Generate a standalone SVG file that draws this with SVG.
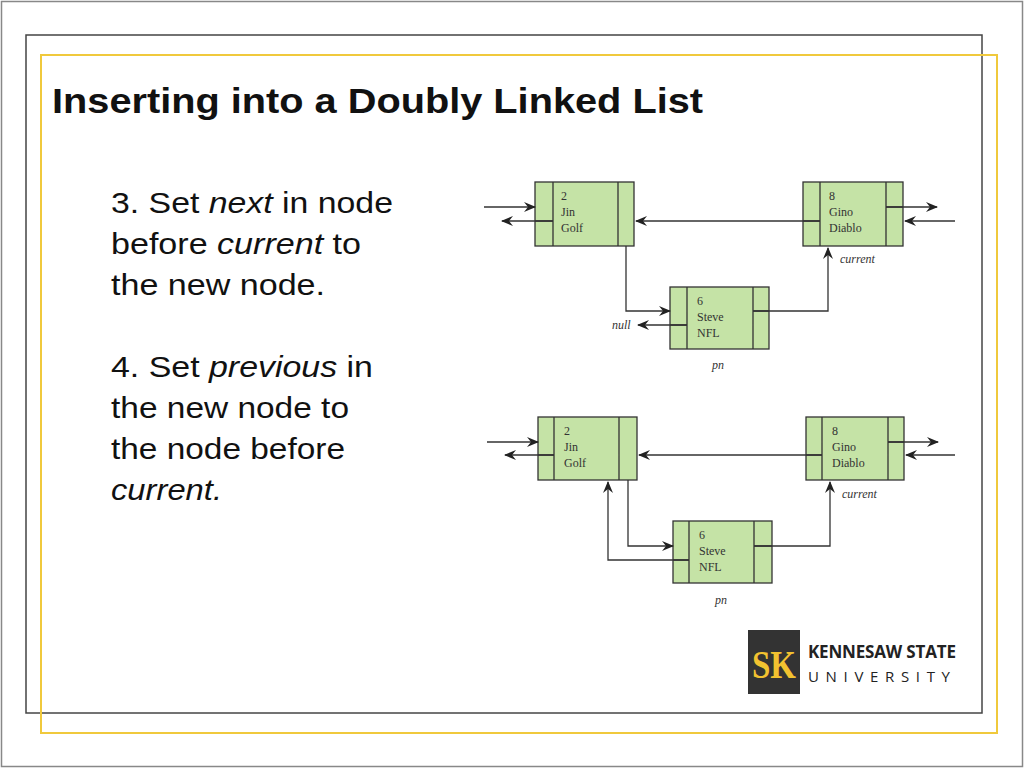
<svg xmlns="http://www.w3.org/2000/svg" width="1024" height="768" viewBox="0 0 1024 768">
<defs>
<marker id="ah" viewBox="0 0 12 10" refX="11" refY="5" markerWidth="12" markerHeight="10" markerUnits="userSpaceOnUse" orient="auto"><path d="M0,0 L12,5 L0,10 L4,5 Z" fill="#222"/></marker>
</defs>
<style>
.nb{fill:#c5e3a6;stroke:#333;stroke-width:1.3}
.dl{stroke:#333;stroke-width:1.3;fill:none}
.c{stroke:#333;stroke-width:1.3;fill:none;marker-end:url(#ah)}
.nt{font-family:"Liberation Serif",serif;font-size:12px;fill:#333}
.it{font-family:"Liberation Serif",serif;font-size:12px;font-style:italic;fill:#333}
.bt{font-family:"Liberation Sans",Arial,sans-serif;font-size:30px;fill:#111}
</style>
<rect x="0" y="0" width="1024" height="768" fill="#fff"/>
<rect x="1.5" y="1.5" width="1021" height="765" fill="none" stroke="#888" stroke-width="1.5"/>
<rect x="26" y="35" width="956" height="678" fill="none" stroke="#444" stroke-width="1.5"/>
<rect x="41" y="55" width="956" height="678" fill="none" stroke="#f0c93c" stroke-width="2"/>
<text x="52" y="113" font-family="Liberation Sans,Arial,sans-serif" font-weight="bold" font-size="35" fill="#111" textLength="651" lengthAdjust="spacingAndGlyphs">Inserting into a Doubly Linked List</text>
<g class="bt">
<text x="111" y="213" textLength="282" lengthAdjust="spacingAndGlyphs">3. Set <tspan font-style="italic">next</tspan> in node</text>
<text x="111" y="254" textLength="250" lengthAdjust="spacingAndGlyphs">before <tspan font-style="italic">current</tspan> to</text>
<text x="111" y="295" textLength="214" lengthAdjust="spacingAndGlyphs">the new node.</text>
<text x="111" y="377" textLength="262" lengthAdjust="spacingAndGlyphs">4. Set <tspan font-style="italic">previous</tspan> in</text>
<text x="111" y="418" textLength="238" lengthAdjust="spacingAndGlyphs">the new node to</text>
<text x="111" y="459" textLength="234" lengthAdjust="spacingAndGlyphs">the node before</text>
<text x="111" y="500" font-style="italic" textLength="111" lengthAdjust="spacingAndGlyphs">current.</text>
</g>

<g id="d1a"><rect class="nb" x="535" y="182" width="99" height="64"/><path class="dl" d="M553,182V246M618,182V246M535,221H553"/><text class="nt"><tspan x="561" y="200">2</tspan><tspan x="561" y="216">Jin</tspan><tspan x="561" y="232">Golf</tspan></text></g>
<g id="d1b"><rect class="nb" x="803" y="182" width="100" height="64"/><path class="dl" d="M820,182V246M886,182V246M803,221H820M886,207H903"/><text class="nt"><tspan x="829" y="200">8</tspan><tspan x="829" y="216">Gino</tspan><tspan x="829" y="232">Diablo</tspan></text></g>
<g id="d1c"><rect class="nb" x="670" y="287" width="99" height="62"/><path class="dl" d="M687,287V349M753,287V349M670,325H687M753,311H769"/><text class="nt"><tspan x="697" y="305">6</tspan><tspan x="697" y="321">Steve</tspan><tspan x="697" y="337">NFL</tspan></text></g>

<g id="d2a"><rect class="nb" x="538" y="417" width="99" height="63"/><path class="dl" d="M554,417V480M619,417V480M538,455H554"/><text class="nt"><tspan x="564" y="435">2</tspan><tspan x="564" y="451">Jin</tspan><tspan x="564" y="467">Golf</tspan></text></g>
<g id="d2b"><rect class="nb" x="806" y="417" width="98" height="63"/><path class="dl" d="M822,417V480M888,417V480M806,455H822M888,442H904"/><text class="nt"><tspan x="832" y="435">8</tspan><tspan x="832" y="451">Gino</tspan><tspan x="832" y="467">Diablo</tspan></text></g>
<g id="d2c"><rect class="nb" x="673" y="521" width="99" height="62"/><path class="dl" d="M689,521V583M754,521V583M673,560H689M754,546H772"/><text class="nt"><tspan x="699" y="539">6</tspan><tspan x="699" y="555">Steve</tspan><tspan x="699" y="571">NFL</tspan></text></g>

<g id="connectors">
<path class="c" d="M484,207H535"/>
<path class="c" d="M553,221H502"/>
<path class="c" d="M820,221H636"/>
<path class="c" d="M626,246V311H670"/>
<path class="c" d="M687,325H638"/>
<path class="c" d="M753,311H828V248"/>
<path class="c" d="M886,207H937"/>
<path class="c" d="M955,221H905"/>
<path class="c" d="M487,442H538"/>
<path class="c" d="M554,455H505"/>
<path class="c" d="M822,455H639"/>
<path class="c" d="M628,480V546H673"/>
<path class="c" d="M689,560H608V482"/>
<path class="c" d="M754,546H830V482"/>
<path class="c" d="M888,442H938"/>
<path class="c" d="M955,455H906"/>
</g>
<text class="it" x="612" y="329">null</text>
<text class="it" x="840" y="263">current</text>
<text class="it" x="712" y="369">pn</text>
<text class="it" x="842" y="498">current</text>
<text class="it" x="715" y="604">pn</text>

<g id="logo">
<rect x="748" y="630" width="52" height="64" fill="#333"/>
<text x="774" y="678" text-anchor="middle" font-family="Liberation Serif,serif" font-weight="bold" font-size="40" fill="#f2c230" textLength="44" lengthAdjust="spacingAndGlyphs">SK</text>
<text x="808" y="658" font-family="Open Sans,Liberation Sans,sans-serif" font-weight="bold" font-size="17" fill="#222" textLength="148">KENNESAW STATE</text>
<text x="808" y="682" font-family="Open Sans,Liberation Sans,sans-serif" font-size="15" fill="#222" textLength="148" letter-spacing="6">UNIVERSITY</text>
</g>
</svg>
